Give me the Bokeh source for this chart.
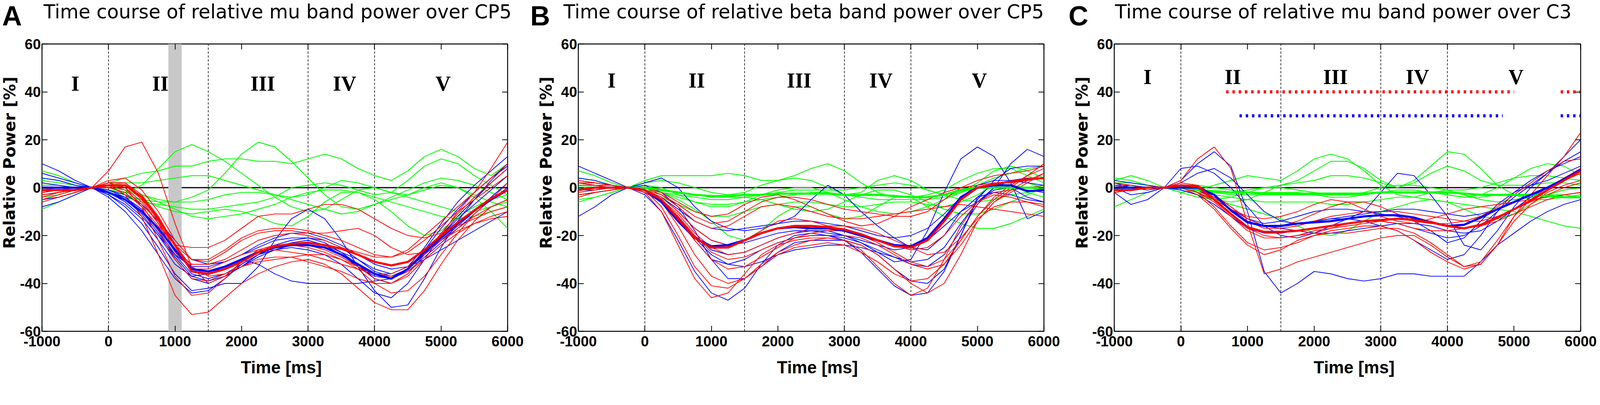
from bokeh.plotting import figure
from bokeh.models import Range1d, FixedTicker, LinearAxis, Label, Span
from bokeh.layouts import row, column
from bokeh.embed import file_html
from bokeh.resources import INLINE

# ---------------- data ----------------
time_ms = list(range(-1000, 6001, 250))
x_ticks = [-1000, 0, 1000, 2000, 3000, 4000, 5000, 6000]
y_ticks = [-60, -40, -20, 0, 20, 40, 60]
phase_bounds = [0, 1500, 3000, 4000]
phase_labels = ["I", "II", "III", "IV", "V"]
phase_label_t = [-500, 780, 2320, 3550, 5030]

titles = ["Time course of relative mu band power over CP5",
          "Time course of relative beta band power over CP5",
          "Time course of relative mu band power over C3"]
panel_letters = ["A", "B", "C"]
x_label = "Time [ms]"
y_label = "Relative Power [%]"

# Panel A: mu band, CP5
a_red_mean = [-1,-1,-1,0,1, 1,-4,-13,-24,-35, -36,-34,-31,-27,-24.5, -23.5,-23,-24,-25.5,-28, -31,-32.5,-31,-26,-20, -14.5,-9.5,-4.5,-1]
a_blue_mean = [0,0,0,0,-2, -5,-10,-17,-26,-34, -35,-33,-30,-27,-25, -24,-24,-25,-28,-32, -36,-38,-34,-27,-21, -15,-9.5,-5,-1]
a_red = [
    [-3,-2,-1,0,7, 17,19,6,-15,-33, -40,-37,-31,-27,-25, -24,-24,-26,-29,-33, -38,-40,-37,-30,-20, -10,-2,8,19],
    [-5,-3,-1,0,1, -3,-12,-28,-45,-53, -52,-46,-40,-36,-33, -31,-30,-32,-36,-42, -48,-51,-51,-43,-32, -22,-14,-8,-5],
    [-4,-2,-1,0,2, 0,-8,-22,-37,-45, -44,-38,-31,-26,-24, -24,-25,-27,-30,-34, -40,-44,-43,-37,-28, -19,-11,-5,2],
    [-2,-1,0,0,0, -2,-8,-16,-24,-25, -25,-22,-17,-12,-11, -11,-9,-7,-7,-9, -13,-17,-20,-21,-19, -16,-13,-10,-8],
    [-1,0,0,0,1, 0,-6,-15,-24,-30, -31,-27,-22,-19,-18, -18,-19,-19,-18,-17, -20,-25,-28,-27,-22, -17,-12,-8,-5],
    [-2,-1,-1,0,2, 2,-3,-12,-24,-33, -37,-36,-33,-30,-29, -29,-31,-33,-35,-38, -40,-40,-36,-28,-19, -11,-4,2,8],
    [0,0,0,0,2, 2,-4,-14,-26,-32, -32,-30,-26,-22,-20, -19,-20,-22,-25,-27, -29,-29,-26,-20,-14, -8,-2,4,10],
    [-6,-4,-2,0,1, -1,-7,-18,-30,-38, -39,-36,-33,-31,-30, -29,-28,-28,-30,-33, -36,-36,-33,-27,-22, -18,-15,-13,-12],
    [-3,-2,-1,0,1, 1,-5,-15,-27,-34, -34,-31,-28,-26,-26, -27,-28,-30,-32,-34, -36,-37,-35,-30,-24, -19,-15,-12,-10],
    [-1,-1,0,0,3, 4,-1,-10,-22,-30, -30,-26,-21,-18,-17, -17,-18,-20,-22,-25, -28,-29,-27,-22,-16, -10,-5,0,5],
]
a_blue = [
    [10,7,3,0,-3, -8,-15,-25,-36,-43, -42,-40,-40,-33,-22, -13,-9,-13,-22,-33, -43,-50,-49,-38,-25, -14,-5,3,10],
    [2,1,0,0,-3, -7,-13,-22,-32,-37, -36,-33,-30,-32,-36, -39,-40,-40,-40,-40, -39,-38,-34,-28,-22, -16,-10,-4,2],
    [-5,-4,-2,0,-4, -10,-18,-28,-38,-44, -43,-38,-32,-28,-26, -25,-26,-28,-32,-38, -44,-46,-40,-30,-20, -12,-5,2,8],
    [-8,-6,-3,0,-2, -6,-12,-20,-28,-33, -33,-31,-28,-25,-22, -21,-21,-23,-27,-32, -38,-40,-36,-28,-20, -13,-7,-1,5],
    [4,3,1,0,-2, -4,-9,-18,-28,-36, -38,-36,-32,-28,-25, -23,-22,-24,-28,-33, -37,-38,-35,-29,-23, -17,-11,-5,0],
    [-3,-2,-1,0,-1, -3,-7,-14,-22,-30, -32,-31,-28,-24,-21, -19,-19,-21,-24,-28, -32,-34,-33,-30,-26, -22,-18,-14,-10],
    [6,4,2,0,-2, -5,-11,-20,-30,-38, -40,-37,-33,-29,-26, -24,-23,-24,-27,-30, -34,-36,-33,-25,-15, -6,1,7,13],
    [-2,-1,0,0,-1, -4,-10,-19,-29,-37, -39,-37,-33,-28,-24, -22,-21,-22,-25,-30, -35,-37,-34,-26,-17, -9,-2,4,9],
]
a_green = [
    [7,5,2,0,2, 4,6,7,9,9, 11,12,12,11,11, 10,12,14,12,8, 5,3,7,13,16, 13,8,5,10],
    [-2,-1,-1,0,-3, -2,1,8,15,18, 15,11,6,1,-4, -8,-10,-9,-5,-1, 0,-2,-4,-6,-8, -10,-10,-8,-6],
    [-4,-3,-1,0,-2, -4,-5,-6,-6,-4, -1,6,14,19,17, 11,4,-3,-8,-9, -7,-5,-3,0,2, 0,-3,-6,-8],
    [1,1,0,0,-2, -4,-6,-7,-8,-9, -9,-8,-7,-6,-4, 0,1,2,1,-1, -3,-2,3,9,12, 10,5,1,-3],
    [-9,-6,-3,0,-1, -3,-5,-8,-10,-11, -10,-9,-10,-12,-15, -16,-12,-6,-2,-2, -5,-10,-16,-20,-18, -12,-8,-5,-3],
    [3,2,1,0,-1, -2,-3,-5,-6,-6, -5,-3,-2,-2,-3, -4,-3,0,3,2, 0,-2,-3,-1,1, 0,-4,-10,-17],
    [-5,-4,-2,0,0, -1,-3,-6,-9,-12, -13,-12,-11,-9,-7, -4,-2,-1,-1,-2, -4,-6,-8,-10,-12, -13,-12,-10,-8],
    [4,3,1,0,1, 2,2,3,4,5, 5,3,1,-1,-3, -5,-7,-9,-11,-10, -7,-4,-1,2,4, 3,1,-2,-5],
]
a_shade_start = [900]
a_shade_end = [1100]

# Panel B: beta band, CP5
b_red_mean = [-1,0,0,0,-1, -5,-13,-21,-25,-25, -22,-19,-17,-16,-16, -16.5,-17.5,-19.5,-22,-24.5, -25,-22,-14,-5,0, 1.5,2.5,3.5,4]
b_blue_mean = [-1,0,0,0,-1, -6,-14,-21,-24.5,-24, -22,-19,-17,-16.5,-17, -17,-18,-20,-22,-24, -24.5,-21,-13,-4,0, 1,1,-1.5,-1]
b_green_mean = [0,0,0,0,0, -1,-2,-3,-3.5,-3.5, -3,-3,-2.5,-2.5,-2.5, -2.5,-3,-3,-3,-3.5, -4,-4,-3,-1,0, 0,0,0,0]
b_red = [
    [1,1,1,0,-2, -10,-24,-38,-46,-44, -36,-28,-24,-22,-21, -21,-22,-26,-33,-40, -45,-42,-30,-16,-6, -2,-1,0,1],
    [-3,-2,-1,0,-1, -8,-20,-33,-41,-42, -38,-32,-27,-24,-22, -21,-22,-24,-28,-34, -40,-44,-40,-28,-14, -6,-2,2,6],
    [2,2,1,0,-1, -6,-16,-28,-37,-40, -38,-33,-28,-25,-24, -23,-24,-27,-31,-36, -39,-38,-32,-22,-12, -5,0,5,10],
    [-2,-1,0,0,-1, -4,-10,-17,-22,-24, -22,-18,-14,-13,-14, -16,-18,-20,-22,-24, -26,-25,-20,-12,-6, -3,-4,-6,-8],
    [0,0,0,0,-1, -3,-7,-12,-15,-14, -10,-6,-4,-4,-5, -7,-9,-10,-11,-12, -12,-10,-5,0,3, 5,6,7,9],
    [1,1,0,0,0, -3,-8,-14,-17,-16, -12,-8,-7,-8,-10, -12,-13,-13,-12,-11, -10,-9,-8,-7,-8, -9,-10,-11,-12],
    [-4,-2,-1,0,-2, -6,-13,-22,-30,-34, -33,-29,-25,-21,-19, -18,-18,-20,-23,-27, -31,-33,-30,-22,-12, -4,1,5,8],
    [3,2,1,0,-1, -5,-12,-20,-27,-30, -29,-26,-23,-21,-20, -20,-20,-21,-24,-28, -32,-34,-32,-24,-14, -6,-1,3,6],
    [-1,0,0,0,0, -2,-6,-10,-12,-11, -7,-4,-3,-5,-8, -11,-14,-16,-15,-12, -8,-5,-2,0,1, 2,2,3,4],
    [2,1,1,0,-1, -5,-11,-19,-25,-28, -27,-24,-21,-19,-17, -16,-16,-17,-19,-22, -25,-28,-27,-21,-13, -8,-6,-6,-7],
]
b_blue = [
    [9,6,3,0,-3, -10,-22,-35,-44,-47, -42,-32,-24,-20,-19, -20,-22,-27,-34,-41, -45,-44,-35,-20,-5, 3,8,9,9],
    [-12,-8,-3,0,1, -2,-8,-18,-30,-38, -38,-33,-27,-23,-22, -22,-22,-24,-28,-34, -39,-40,-34,-20,-4, 2,0,-4,-6],
    [3,2,1,0,-2, -6,-12,-20,-26,-28, -27,-24,-21,-19,-18, -18,-20,-23,-27,-31, -30,-18,-2,12,17, 13,2,-13,-10],
    [-1,-1,0,0,-1, -4,-10,-17,-22,-24, -23,-21,-19,-18,-18, -19,-20,-22,-24,-26, -25,-22,-16,-10,-6, 0,10,16,13],
    [4,3,1,0,-1, -4,-9,-14,-17,-18, -17,-16,-15,-12,-5, 1,-3,-10,-16,-21, -25,-26,-20,-10,-4, -2,-3,-5,-6],
    [-3,-2,-1,0,-2, -6,-13,-22,-30,-32, -30,-26,-23,-21,-20, -20,-21,-23,-26,-29, -32,-33,-28,-18,-7, 0,3,4,4],
    [2,1,1,0,2, 4,0,-8,-14,-17, -18,-17,-15,-14,-14, -15,-16,-18,-20,-21, -20,-17,-11,-4,1, 3,3,2,1],
    [0,0,0,0,-1, -5,-12,-21,-28,-32, -33,-31,-28,-26,-25, -24,-24,-25,-27,-29, -31,-30,-25,-15,-6, -1,0,-1,-2],
]
b_green = [
    [7,5,2,0,3, 5,5,5,5,6, 5,3,3,5,8, 10,7,2,-2,-4, -4,-3,-1,3,6, 8,8,5,2],
    [4,3,1,0,2, 3,2,0,-2,-3, -2,1,3,4,3, 0,-3,-2,3,5, 3,-1,-3,-2,2, 7,9,7,4],
    [-2,-1,0,0,-1, -4,-7,-10,-12,-12, -10,-8,-7,-6,-6, -7,-8,-8,-7,-6, -6,-7,-8,-6,-3, 1,3,2,0],
    [-5,-4,-2,0,0, -2,-5,-9,-14,-20, -22,-18,-12,-8,-8, -11,-13,-12,-8,-4, -4,-8,-12,-15,-17, -17,-15,-12,-9],
    [1,1,0,0,0, -2,-4,-6,-7,-7, -6,-5,-4,-3,-2, -2,-3,-4,-5,-5, -5,-5,-4,-2,0, 1,1,0,-1],
    [-3,-2,-1,0,1, 0,-3,-6,-8,-8, -6,-3,-1,0,0, -2,-5,-8,-10,-11, -10,-8,-5,-2,1, 4,6,8,9],
    [2,2,1,0,-1, -2,-3,-4,-5,-5, -4,-3,-2,-1,-1, -1,-1,0,1,2, 1,-1,-3,-5,-6, -5,-3,-2,-4],
    [-6,-4,-2,0,0, -1,-2,-3,-4,-4, -4,-5,-7,-9,-10, -9,-6,-3,-1,-1, -3,-6,-9,-11,-11, -9,-6,-3,0],
]

# Panel C: mu band, C3
c_red_mean = [-1,-1,0,0,1, 0.5,-5,-11,-16.5,-18.5, -18.5,-18,-17,-16,-15, -14,-13.5,-13,-13.5,-14.5, -16,-17,-15.5,-12.5,-9, -5.5,-1,3,7]
c_blue_mean = [0,0,0,0,0, 0,-3,-9.5,-14.5,-16, -16,-15,-14.5,-14,-13, -12,-11.5,-11.5,-12.5,-14.5, -16,-15.5,-12.5,-9,-6, -3,0,3.5,7.5]
c_green_mean = [0,0,0,0,0, -1,-1.5,-2,-2,-2.5, -2.5,-2.5,-2.5,-2.5,-2.5, -2.5,-2,-2,-2,-2, -2,-2.5,-3,-3,-3, -3,-3.5,-4,-4]
c_red = [
    [-2,-1,0,0,3, 12,17,8,-15,-36, -34,-31,-29,-27,-25, -23,-21,-20,-20,-24, -29,-33,-32,-24,-12, -3,5,13,23],
    [1,1,0,0,1, -2,-8,-16,-23,-26, -25,-23,-20,-18,-17, -16,-16,-18,-22,-27, -31,-34,-32,-24,-14, -7,-2,1,3],
    [-2,-1,0,0,0, -3,-9,-17,-24,-28, -26,-22,-20,-19,-19, -18,-17,-17,-19,-23, -28,-33,-31,-22,-12, -5,0,4,8],
    [0,0,0,0,2, 1,-3,-8,-13,-16, -16,-14,-11,-8,-6, -6,-8,-11,-14,-15, -15,-14,-12,-8,-3, 2,7,11,12],
    [1,0,0,0,1, -1,-5,-11,-17,-20, -21,-20,-18,-17,-16, -15,-14,-13,-13,-14, -16,-17,-16,-13,-9, -5,-1,3,6],
    [-1,-1,0,0,0, -2,-6,-12,-18,-21, -21,-20,-19,-17,-15, -14,-14,-15,-17,-18, -18,-17,-16,-14,-11, -8,-5,-3,-2],
    [2,1,0,0,1, 0,-4,-9,-14,-17, -17,-16,-14,-12,-11, -10,-10,-10,-11,-12, -13,-14,-14,-12,-9, -6,-3,0,2],
    [0,0,0,0,0, -2,-5,-9,-12,-13, -12,-10,-7,-5,-6, -9,-12,-14,-15,-13, -11,-9,-8,-7,-6, -5,-4,-3,-2],
]
c_blue = [
    [2,0,-1,0,3, 10,15,9,-10,-35, -44,-40,-35,-36,-38, -39,-38,-36,-36,-37, -37,-37,-31,-24,-19, -14,-10,-7,-5],
    [0,-3,-2,0,8, 9,6,0,-8,-16, -20,-21,-19,-16,-13, -10,-2,6,5,-3, -12,-24,-26,-18,-8, 0,6,13,20],
    [-2,-7,-5,0,2, 6,8,4,-3,-10, -14,-15,-14,-13,-13, -14,-16,-18,-22,-26, -30,-28,-20,-10,-2, 3,7,10,13],
    [3,2,1,0,0, -2,-5,-9,-13,-15, -14,-12,-10,-9,-9, -10,-11,-12,-14,-18, -23,-21,-14,-7,-2, 1,3,6,9],
    [-1,-1,0,0,-1, -3,-7,-12,-17,-19, -19,-18,-17,-16,-15, -14,-14,-15,-17,-19, -21,-20,-16,-10,-4, 1,6,11,15],
    [1,0,0,0,1, 0,-3,-8,-13,-16, -16,-15,-14,-13,-12, -11,-10,-9,-9,-10, -11,-12,-11,-9,-6, -3,0,3,6],
    [0,1,0,0,0, -1,-4,-9,-14,-16, -17,-18,-19,-19,-18, -17,-16,-15,-15,-16, -18,-19,-18,-14,-9, -4,0,4,8],
]
c_green = [
    [3,5,3,0,-2, -1,1,3,5,4, 3,7,12,14,12, 7,1,-3,-4,-2, -1,-1,0,2,4, 5,5,4,3],
    [-8,-5,-2,0,-2, -4,-5,-4,-2,0, 1,3,7,11,11, 8,3,0,3,9, 15,14,8,1,-3, -5,-5,-4,-3],
    [1,1,0,0,-1, -3,-5,-6,-5,-2, 1,2,3,5,5, 4,2,0,2,6, 9,7,3,1,1, 1,2,2,1],
    [-2,-1,0,0,-1, -3,-5,-7,-9,-11, -13,-16,-19,-20,-18, -14,-10,-8,-6,-5, -6,-9,-12,-13,-11, -7,-3,-1,0],
    [2,2,1,0,0, -1,-2,-3,-3,-3, -3,-3,-3,-3,-3, -3,-2,-2,-2,-2, -3,-4,-3,0,4, 8,10,9,5],
    [-1,0,0,0,0, -2,-3,-4,-5,-6, -6,-6,-6,-7,-7, -6,-5,-4,-4,-5, -6,-7,-8,-9,-10, -12,-14,-16,-17],
    [0,0,0,0,1, 1,0,-1,-2,-2, -2,-2,-3,-4,-4, -3,-2,-1,-1,-2, -3,-4,-4,-3,-3, -3,-3,-4,-4],
    [4,3,1,0,0, -1,-2,-2,-1,0, 0,-1,-2,-3,-3, -2,0,1,1,0, -1,-3,-5,-6,-5, -4,-3,-3,-4],
]
c_red_sig_start = [680, 5700]
c_red_sig_end = [5000, 6000]
c_red_sig_level = 40
c_blue_sig_start = [880, 5700]
c_blue_sig_end = [4830, 6000]
c_blue_sig_level = 30

for arr in [a_red_mean, a_blue_mean, b_red_mean, b_blue_mean, b_green_mean,
            c_red_mean, c_blue_mean, c_green_mean] + a_red + a_blue + a_green + \
        b_red + b_blue + b_green + c_red + c_blue + c_green:
    assert len(arr) == len(time_ms), len(arr)

# ---------------- style / layout (CSS px) ----------------
RED = "#ff0000"
BLUE = "#0000ff"
GREEN = "#00ff00"
TICK_FONT = "Liberation Sans"
X0, X1, Y0, Y1 = -1000, 6000, -60, 60

TOTAL_W = 4090
HEADER_H = 93
FOOTER_H = 55
BORDER_TOP = 19
FRAME_H = 735
BORDER_BOTTOM = 66
PANEL_H = BORDER_TOP + FRAME_H + BORDER_BOTTOM

ylab_widths = [48, 50, 48]
left_borders = [58, 57, 59]
frame_widths = [1193, 1194, 1194]
right_borders = [72, 73, 44]
ylabel_local_x = [24, 26, 24]
ylabel_local_y = 339
letter_local_x = [5, 1357, 2735]
title_local_x = [111, 1442, 2854]
numeral_levels = [43.4, 44.8, 46.2]


def text_strip(width, height):
    f = figure(width=width, height=height, x_range=Range1d(0, width),
               y_range=Range1d(height, 0), output_backend="svg", toolbar_location=None,
               x_axis_location=None, y_axis_location=None, min_border=0)
    f.outline_line_color = None
    f.grid.visible = False
    return f


def make_panel(reds, blues, greens, red_mean, blue_mean, green_mean, lb, fw, rb, numeral_v,
               shade=None, sigs=None):
    p = figure(width=lb + fw + rb, height=PANEL_H,
               x_range=Range1d(X0, X1), y_range=Range1d(Y0, Y1),
               output_backend="svg", toolbar_location=None,
               min_border_left=lb, min_border_right=rb,
               min_border_top=BORDER_TOP, min_border_bottom=BORDER_BOTTOM)
    p.grid.visible = False
    p.outline_line_color = "black"
    p.outline_line_width = 2.4
    p.outline_line_alpha = 1.0

    for ax, ticks in ((p.xaxis[0], x_ticks), (p.yaxis[0], y_ticks)):
        ax.ticker = FixedTicker(ticks=ticks)
        ax.major_label_overrides = {t: str(t) for t in ticks}
        ax.axis_line_color = None
        ax.major_tick_in = 14
        ax.major_tick_out = 0
        ax.major_tick_line_width = 2
        ax.major_tick_line_color = "black"
        ax.minor_tick_line_color = None
        ax.major_label_text_font = TICK_FONT
        ax.major_label_text_font_style = "bold"
        ax.major_label_text_font_size = "37px"
        ax.major_label_text_color = "black"
    p.xaxis[0].major_label_standoff = 12
    p.yaxis[0].major_label_standoff = 3

    for loc, ticks in (("above", x_ticks), ("right", y_ticks)):
        ax = LinearAxis(ticker=FixedTicker(ticks=ticks), axis_line_color=None,
                        major_tick_in=14, major_tick_out=0, major_tick_line_width=2,
                        major_tick_line_color="black", minor_tick_line_color=None,
                        major_label_overrides={t: "" for t in ticks},
                        major_label_text_font_size="1px", major_label_standoff=0)
        p.add_layout(ax, loc)

    if shade is not None:
        p.quad(left=shade[0], right=shade[1], bottom=Y0, top=Y1,
               fill_color="#c8c8c8", line_color=None)

    p.add_layout(Span(location=0, dimension="width", line_color="black",
                      line_width=3, level="underlay"))
    p.segment(x0=phase_bounds, x1=phase_bounds, y0=Y0, y1=Y1, line_color="black",
              line_width=1.5, line_dash="6 4")

    p.multi_line(xs=[time_ms] * len(greens), ys=greens, line_color=GREEN, line_width=2.1)
    p.multi_line(xs=[time_ms] * len(blues), ys=blues, line_color=BLUE, line_width=1.9)
    p.multi_line(xs=[time_ms] * len(reds), ys=reds, line_color=RED, line_width=1.9)
    if green_mean is not None:
        p.line(time_ms, green_mean, line_color=GREEN, line_width=5.5)
    p.line(time_ms, blue_mean, line_color=BLUE, line_width=5.5)
    p.line(time_ms, red_mean, line_color=RED, line_width=5.5)

    if sigs is not None:
        for starts, ends, level, col in sigs:
            p.segment(x0=starts, x1=ends, y0=level, y1=level, line_color=col,
                      line_width=8, line_dash="6 10", line_cap="butt")

    for lab, t in zip(phase_labels, phase_label_t):
        p.add_layout(Label(x=t, y=numeral_v, text=lab, text_font="Liberation Serif",
                           text_font_style="bold", text_font_size="54px", text_color="black",
                           text_align="center", text_baseline="middle"))
    return p


panel_data = [
    (a_red, a_blue, a_green, a_red_mean, a_blue_mean, None, (a_shade_start, a_shade_end), None),
    (b_red, b_blue, b_green, b_red_mean, b_blue_mean, b_green_mean, None, None),
    (c_red, c_blue, c_green, c_red_mean, c_blue_mean, c_green_mean, None,
     [(c_red_sig_start, c_red_sig_end, c_red_sig_level, RED),
      (c_blue_sig_start, c_blue_sig_end, c_blue_sig_level, BLUE)]),
]

header = text_strip(TOTAL_W, HEADER_H)
footer = text_strip(TOTAL_W, FOOTER_H)
row_children = []
x_cursor = 0
for i, (reds, blues, greens, rm, bm, gm, shade, sigs) in enumerate(panel_data):
    ylab = text_strip(ylab_widths[i], PANEL_H)
    ylab.add_layout(Label(x=ylabel_local_x[i], y=ylabel_local_y, text=y_label,
                          text_font="DejaVu Sans", text_font_style="bold",
                          text_font_size="41px", text_color="black", angle=1.5707963,
                          text_align="center", text_baseline="middle"))
    p = make_panel(reds, blues, greens, rm, bm, gm, left_borders[i], frame_widths[i],
                   right_borders[i], numeral_levels[i], shade=shade, sigs=sigs)
    row_children += [ylab, p]
    frame_left = x_cursor + ylab_widths[i] + left_borders[i]
    ppx = frame_widths[i] / (X1 - X0)
    footer.add_layout(Label(x=frame_left + (2600 - X0) * ppx, y=26, text=x_label,
                            text_font=TICK_FONT, text_font_style="bold",
                            text_font_size="44px", text_color="black",
                            text_align="center", text_baseline="middle"))
    header.add_layout(Label(x=letter_local_x[i], y=1, text=panel_letters[i],
                            text_font="Liberation Sans", text_font_style="bold",
                            text_font_size="70px", text_color="black",
                            text_align="left", text_baseline="top"))
    header.add_layout(Label(x=title_local_x[i], y=1, text=titles[i],
                            text_font="DejaVu Sans", text_font_size="49px", text_color="black",
                            text_align="left", text_baseline="top"))
    x_cursor += ylab_widths[i] + left_borders[i] + frame_widths[i] + right_borders[i]

layout = column(header, row(*row_children), footer)
open("out.html", "w").write(file_html(layout, INLINE, title="Relative band power"))
